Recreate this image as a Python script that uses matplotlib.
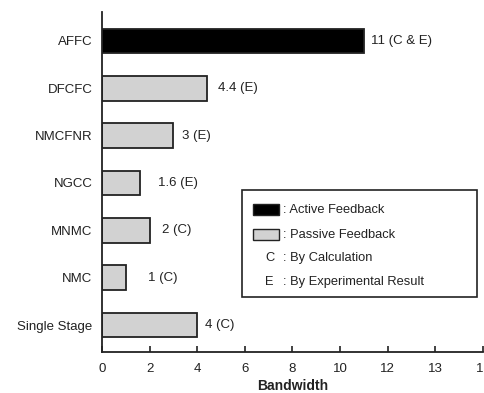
import matplotlib
matplotlib.use("Agg")
import matplotlib.pyplot as plt
from matplotlib.patches import Rectangle

plt.rcParams['font.family'] = ['Liberation Sans', 'DejaVu Sans']

categories = ["Single Stage", "NMC", "MNMC", "NGCC", "NMCFNR", "DFCFC", "AFFC"]
bandwidth = [4, 1, 2, 1.6, 3, 4.4, 11]
value_labels = ["4 (C)", "1 (C)", "2 (C)", "1.6 (E)", "3 (E)", "4.4 (E)", "11 (C & E)"]
bar_colors = ["#d2d2d2"] * 6 + ["#000000"]
xtick_values = [0, 2, 4, 6, 8, 10, 12, 14, 16]
xtick_labels = ["0", "2", "4", "6", "8", "10", "12", "13", "1"]

# style: gap between bar end and its label (data units)
label_gap = [0.33, 0.92, 0.54, 0.75, 0.38, 0.46, 0.29]

fig = plt.figure(figsize=(4.85, 3.93), dpi=100)
ax = fig.add_axes([102/485, 41/393, 381/485, 340/393])

y = list(range(len(categories)))
ax.barh(y, bandwidth, height=0.52, color=bar_colors, edgecolor="#222222", linewidth=1.3)
for yi, v, lab, g in zip(y, bandwidth, value_labels, label_gap):
    ax.text(v + g, yi, lab, va="center", ha="left", fontsize=9.5, color="#222222")

ax.set_xlim(0, 16)
ax.set_ylim(-0.57, 6.61)
ax.set_yticks(y)
ax.set_yticklabels(categories, fontsize=9.5, color="#222222")
ax.tick_params(axis="y", length=0, pad=7)
ax.set_xticks(xtick_values)
ax.set_xticklabels(xtick_labels, fontsize=9.5, color="#222222")
ax.get_xticklabels()[-1].set_horizontalalignment("right")
ax.tick_params(axis="x", direction="in", length=4, width=1.2, color="#222222", pad=8)
ax.spines["top"].set_visible(False)
ax.spines["right"].set_visible(False)
for s in ["left", "bottom"]:
    ax.spines[s].set_linewidth(1.3)
    ax.spines[s].set_color("#222222")
ax.set_xlabel("Bandwidth", fontsize=10, fontweight="bold", color="#222222", labelpad=3)

# legend box
ax.add_patch(Rectangle((0.367, 0.162), 0.617, 0.314, transform=ax.transAxes,
                       facecolor="white", edgecolor="#222222", linewidth=1.2, zorder=5))
ax.add_patch(Rectangle((0.396, 0.402), 0.068, 0.033, transform=ax.transAxes,
                       facecolor="#000000", edgecolor="#222222", linewidth=1, zorder=6))
ax.add_patch(Rectangle((0.396, 0.328), 0.068, 0.033, transform=ax.transAxes,
                       facecolor="#d2d2d2", edgecolor="#222222", linewidth=1, zorder=6))
leg_items = [(0.418, "", ": Active Feedback"), (0.344, "", ": Passive Feedback"),
             (0.276, "C", ": By Calculation"), (0.206, "E", ": By Experimental Result")]
for yy, key, txt in leg_items:
    if key:
        ax.text(0.440, yy, key, transform=ax.transAxes, fontsize=9.3, va="center",
                ha="center", color="#222222", zorder=7)
    ax.text(0.474, yy, txt, transform=ax.transAxes, fontsize=9.3, va="center",
            ha="left", color="#222222", zorder=7)

fig.savefig("out.png", dpi=100)
